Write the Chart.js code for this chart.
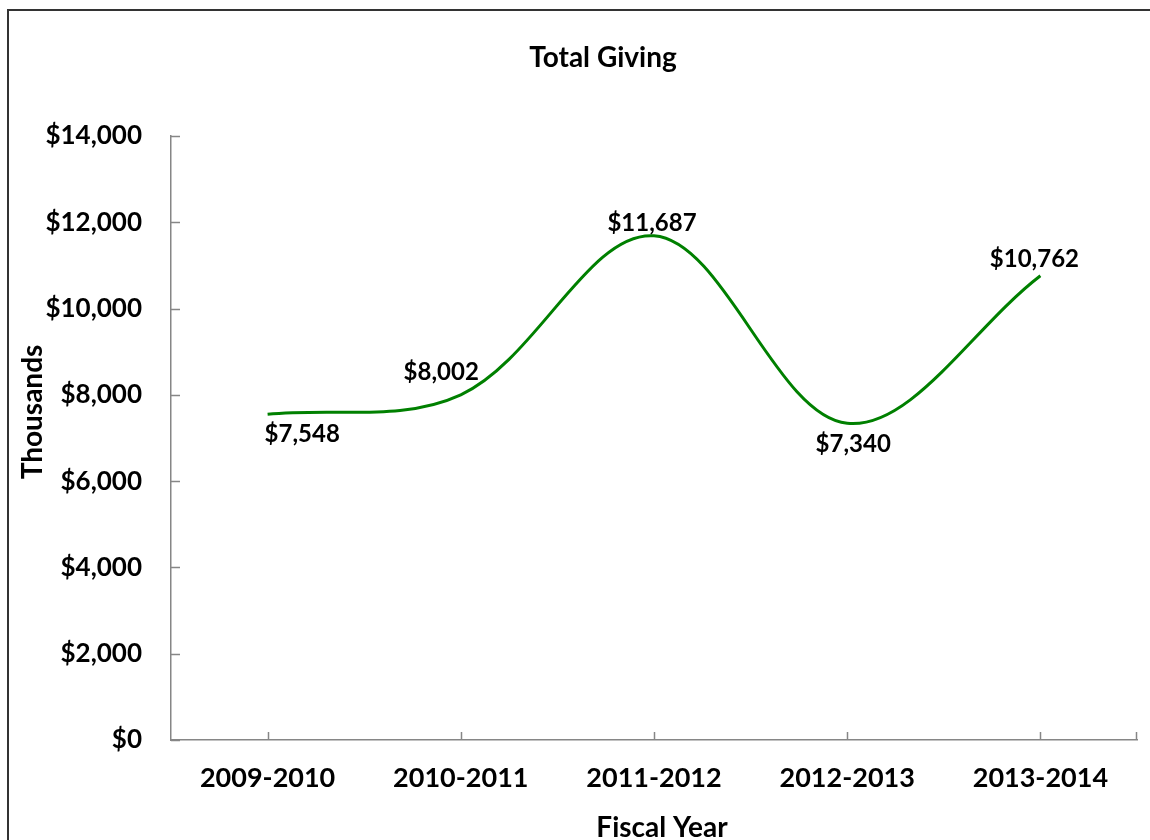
<!DOCTYPE html>
<html>
<head>
<meta charset="utf-8">
<script src="https://cdn.jsdelivr.net/npm/chart.js@4"></script>
<style>
  html, body { margin: 0; padding: 0; background: #ffffff; }
  #wrap { position: relative; width: 1150px; height: 840px; }
</style>
</head>
<body>
<div id="wrap"><canvas id="c" width="1150" height="840"></canvas></div>
<script>
// ---- data ----
const categories = ["2009-2010", "2010-2011", "2011-2012", "2012-2013", "2013-2014"];
const totalGiving = [7548, 8002, 11687, 7340, 10762];
const yTicks = [0, 2000, 4000, 6000, 8000, 10000, 12000, 14000];
const chartTitle = "Total Giving";
const xTitle = "Fiscal Year";
const yTitle = "Thousands";

const FONT = "Lato, 'Open Sans', sans-serif";
const money = v => "$" + Number(v).toLocaleString("en-US");

// frame around chart (like the Excel chart border)
const framePlugin = {
  id: "frame",
  beforeDraw(chart) {
    const ctx = chart.ctx;
    ctx.save();
    ctx.fillStyle = "#ffffff";
    ctx.fillRect(0, 0, chart.width, chart.height);
    ctx.strokeStyle = "#333333";
    ctx.lineWidth = 2;
    ctx.beginPath();
    ctx.moveTo(8, chart.height);
    ctx.lineTo(8, 10);
    ctx.lineTo(chart.width, 10);
    ctx.stroke();
    ctx.restore();
  }
};

// inside tick marks for both axes
const ticksPlugin = {
  id: "insideTicks",
  afterDraw(chart) {
    const ctx = chart.ctx;
    const xs = chart.scales.x, ys = chart.scales.y;
    const a = chart.chartArea;
    ctx.save();
    ctx.strokeStyle = "#868686";
    ctx.lineWidth = 1.5;
    ctx.beginPath();
    xs.ticks.forEach((t, i) => {
      const px = Math.round(xs.getPixelForTick(i)) + 0.5;
      ctx.moveTo(px, a.bottom);
      ctx.lineTo(px, a.bottom - 8);
    });
    const rx = Math.round(a.right) - 0.5;
    ctx.moveTo(rx, a.bottom);
    ctx.lineTo(rx, a.bottom - 8);
    ys.ticks.forEach((t, i) => {
      const py = Math.round(ys.getPixelForTick(i)) + 0.5;
      ctx.moveTo(a.left, py);
      ctx.lineTo(a.left + 9, py);
    });
    ctx.stroke();
    ctx.restore();
  }
};

// data labels
const labelPlacement = [
  { align: "left",   dx: -3, dy: 20 },
  { align: "right",  dx: 18, dy: -23 },
  { align: "center", dx: -2, dy: -13 },
  { align: "center", dx: 6,  dy: 21 },
  { align: "center", dx: -6, dy: -16 }
];
const labelsPlugin = {
  id: "dataLabels",
  afterDatasetsDraw(chart) {
    const ctx = chart.ctx;
    const meta = chart.getDatasetMeta(0);
    ctx.save();
    ctx.font = "bold 24px " + FONT;
    ctx.fillStyle = "#000000";
    ctx.textBaseline = "middle";
    meta.data.forEach((pt, i) => {
      const p = labelPlacement[i];
      ctx.textAlign = p.align;
      ctx.fillText(money(chart.data.datasets[0].data[i]), pt.x + p.dx, pt.y + p.dy);
    });
    ctx.restore();
  }
};

// chart title and axis titles
const titlesPlugin = {
  id: "titles",
  afterDraw(chart) {
    const ctx = chart.ctx;
    ctx.save();
    ctx.fillStyle = "#000000";
    ctx.textAlign = "center";
    ctx.textBaseline = "middle";
    ctx.font = "bold 28px " + FONT;
    ctx.fillText(chartTitle, 603, 58);
    ctx.fillText(xTitle, 662, 828);
    ctx.translate(33, 412);
    ctx.rotate(-Math.PI / 2);
    ctx.fillText(yTitle, 0, 0);
    ctx.restore();
  }
};

new Chart(document.getElementById("c"), {
  type: "line",
  data: {
    labels: categories,
    datasets: [{
      label: chartTitle,
      data: totalGiving,
      borderColor: "#008000",
      borderWidth: 3,
      tension: 0.35,
      pointRadius: 0,
      fill: false
    }]
  },
  options: {
    responsive: false,
    animation: false,
    layout: { padding: { left: 0, right: 13, top: 136, bottom: 0 } },
    plugins: {
      legend: { display: false },
      tooltip: { enabled: false },
      title: { display: false }
    },
    scales: {
      x: {
        offset: true,
        grid: { display: true, drawOnChartArea: false, drawTicks: false, offset: false, color: "#868686" },
        border: { display: true, color: "#868686", width: 1.5 },
        ticks: {
          color: "#000000",
          font: { family: FONT, size: 27, weight: "bold" },
          padding: 22,
          maxRotation: 0,
          autoSkip: false
        },
        afterFit(scale) { scale.height = 100; }
      },
      y: {
        min: 0,
        max: 14000,
        grid: { display: false, drawTicks: false },
        border: { display: true, color: "#868686", width: 1.5 },
        afterBuildTicks(scale) { scale.ticks = yTicks.map(v => ({ value: v })); },
        ticks: {
          color: "#000000",
          font: { family: FONT, size: 26, weight: "bold" },
          padding: 29,
          callback: v => money(v)
        },
        afterFit(scale) { scale.width = 171; }
      }
    }
  },
  plugins: [framePlugin, ticksPlugin, labelsPlugin, titlesPlugin]
});
</script>
</body>
</html>
